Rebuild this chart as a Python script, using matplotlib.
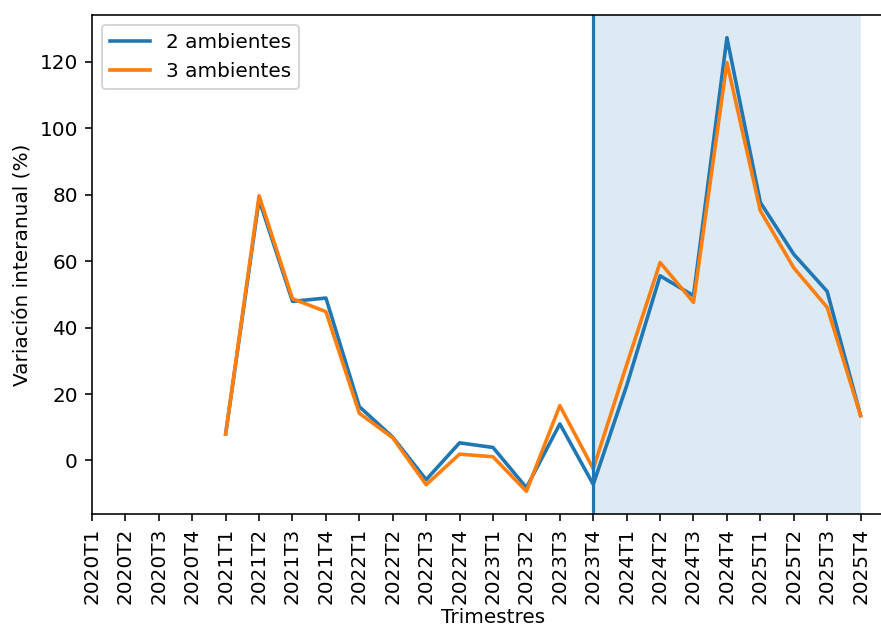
import numpy as np
import matplotlib
matplotlib.use("Agg")
import matplotlib.pyplot as plt

# trimestres 2020T1 .. 2025T4
trimestres = [f"{y}T{q}" for y in range(2020, 2026) for q in range(1, 5)]

nan = np.nan
amb2 = [nan, nan, nan, nan,
        8.0, 78.5, 47.9, 48.9,
        16.2, 7.0, -5.8, 5.3,
        3.9, -8.2, 11.0, -7.2,
        22.5, 55.6, 49.6, 127.3,
        77.7, 62.1, 50.9, 13.5]
amb3 = [nan, nan, nan, nan,
        8.0, 79.7, 48.7, 44.8,
        14.2, 6.8, -7.3, 1.9,
        1.1, -9.3, 16.5, -2.5,
        28.8, 59.6, 47.6, 119.8,
        75.2, 58.0, 46.1, 13.5]

inicio_proy = "2023T4"
fin_proy = "2025T4"

DPI = 144
fig = plt.figure(figsize=(881 / DPI, 628 / DPI), dpi=DPI)
ax = fig.add_axes([92 / 881, 114 / 628, 802 / 881, 499 / 628])

x = np.arange(len(trimestres))
ax.plot(x, amb2, label="2 ambientes", lw=1.8)
ax.plot(x, amb3, label="3 ambientes", lw=1.8)

i0 = trimestres.index(inicio_proy)
i1 = trimestres.index(fin_proy)
ax.axvline(i0, color="C0", lw=1.6)
ax.axvspan(i0, i1, color="C0", alpha=0.15, lw=0)

ax.set_xticks(x)
ax.set_xticklabels(trimestres, rotation=90)
ax.set_xlim(0, 24)
ax.set_xlabel("Trimestres", labelpad=2)
ax.set_ylabel("Variación interanual (%)")
ax.legend(loc="upper left")

fig.savefig("out.png", dpi=DPI)
